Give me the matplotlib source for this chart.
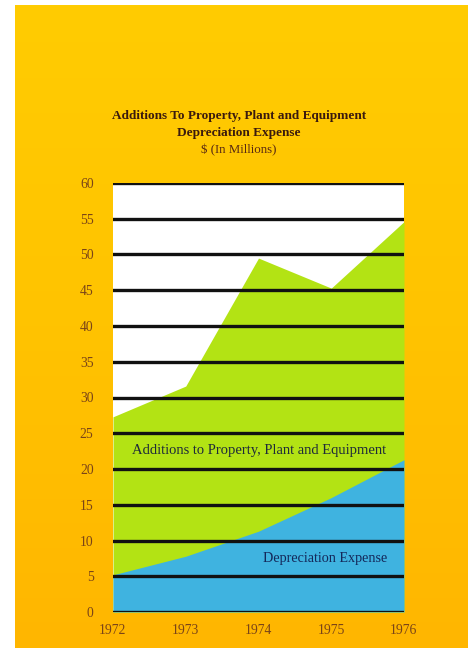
import numpy as np
import matplotlib.pyplot as plt
from matplotlib.colors import LinearSegmentedColormap

years = [1972, 1973, 1974, 1975, 1976]
additions = [27.3, 31.6, 49.5, 45.3, 54.6]
depreciation = [5.2, 7.8, 11.3, 16.0, 21.3]
y_ticks = list(range(0, 61, 5))

serif = ['Liberation Serif', 'DejaVu Serif']
plt.rcParams['font.family'] = serif

fig = plt.figure(figsize=(4.76, 6.48), dpi=100, facecolor='white')

# orange page with a soft yellow-to-orange fade
bg = fig.add_axes([15 / 476, 0, 453 / 476, 1 - 5 / 648])
grad = np.linspace(0, 1, 256).reshape(-1, 1)
cmap = LinearSegmentedColormap.from_list('page', ['#FFCC02', '#FFC300', '#FFB600'])
bg.imshow(grad, aspect='auto', cmap=cmap, extent=[0, 1, 0, 1], origin='upper')
bg.set_axis_off()

ax = fig.add_axes([113 / 476, 1 - 612 / 648, 291 / 476, 429 / 648])
ax.set_facecolor('white')
ax.fill_between(years, 0, additions, color='#B3E314', linewidth=0, zorder=1)
ax.fill_between(years, 0, depreciation, color='#3FB3E0', linewidth=0, zorder=2)

for v in y_ticks:
    ax.axhline(v, color='#111111', linewidth=2.4, zorder=3)

ax.set_xlim(1972, 1976)
ax.set_ylim(0, 60)
ax.set_yticks(y_ticks)
ax.set_xticks(years)
ax.tick_params(length=0, labelsize=9.8, labelcolor='#7A4418')
ax.tick_params(axis='y', pad=14)
ax.tick_params(axis='x', pad=9)
for s in ax.spines.values():
    s.set_visible(False)

ax.text(1974.01, 22.6, 'Additions to Property, Plant and Equipment',
        ha='center', va='center', fontsize=10.5, color='#1E2A3A', zorder=4)
ax.text(1975.77, 7.5, 'Depreciation Expense',
        ha='right', va='center', fontsize=10.2, color='#14285A', zorder=4)

tx = 239 / 476
fig.text(tx, 1 - 116 / 648, 'Additions To Property, Plant and Equipment',
         ha='center', va='center', fontsize=9.5, fontweight='bold', color='#3A1A0E')
fig.text(tx, 1 - 133 / 648, 'Depreciation Expense',
         ha='center', va='center', fontsize=9.5, fontweight='bold', color='#3A1A0E')
fig.text(tx, 1 - 150 / 648, '$ (In Millions)',
         ha='center', va='center', fontsize=9.3, color='#5A2A12')

fig.savefig('out.png', dpi=100, facecolor=fig.get_facecolor())
